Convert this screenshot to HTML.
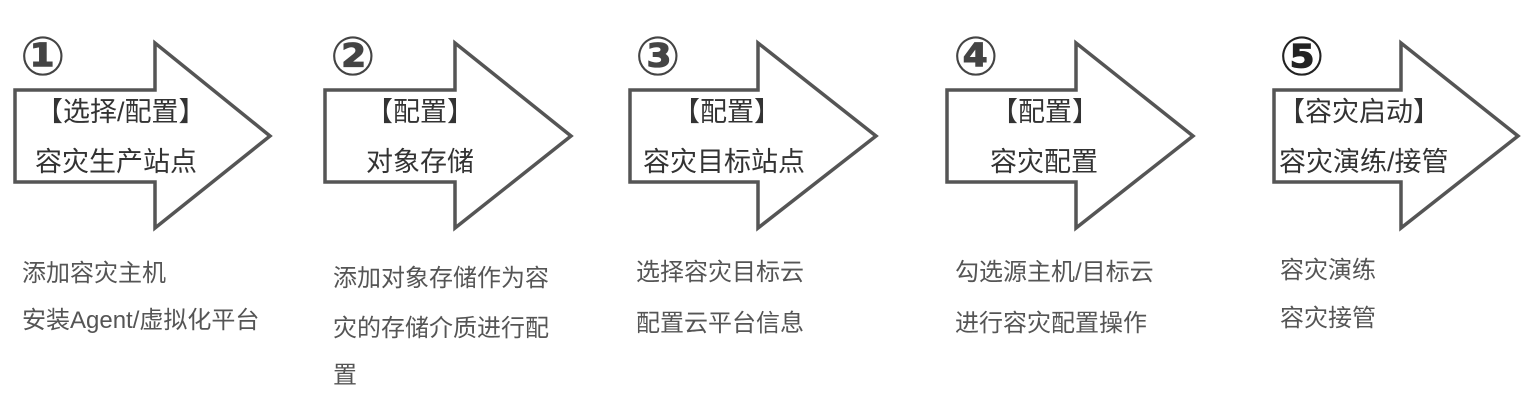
<!DOCTYPE html>
<html><head><meta charset="utf-8"><style>
body{margin:0;width:1531px;height:419px;background:#fff;position:relative;overflow:hidden;font-family:"Liberation Sans","Noto Sans CJK SC",sans-serif;}
.t{position:absolute;white-space:nowrap;color:#333;font-size:27px;line-height:1;}
.b{position:absolute;white-space:nowrap;color:#555;font-size:24px;line-height:1;}
.n{position:absolute;font-family:"DejaVu Sans",sans-serif;font-weight:bold;font-size:54px;color:#444;line-height:1;}
</style></head><body>
<svg width="1531" height="419" style="position:absolute;left:0;top:0">
<g fill="#fff" stroke="#555" stroke-width="3.5" stroke-linejoin="miter">
<polygon points="15,90 155,90 155,43 270,136 155,228 155,182 15,182"/>
<polygon points="325,90 455,90 455,43 571,136 455,228 455,182 325,182"/>
<polygon points="630,90 758,90 758,43 876,136 758,228 758,182 630,182"/>
<polygon points="947,90 1076,90 1076,43 1193,136 1076,228 1076,182 947,182"/>
<polygon points="1274,90 1401,90 1401,43 1518,136 1401,228 1401,182 1274,182"/>
</g></svg>
<div class="n" style="left:20px;top:30px">①</div>
<div class="n" style="left:330px;top:30px">②</div>
<div class="n" style="left:635px;top:30px">③</div>
<div class="n" style="left:953px;top:30px">④</div>
<div class="n" style="left:1279px;top:30px;color:#222">⑤</div>

<div class="t" style="left:36px;top:99px">【选择/配置】</div>
<div class="t" style="left:35px;top:149px">容灾生产站点</div>
<div class="t" style="left:366px;top:99px">【配置】</div>
<div class="t" style="left:366px;top:149px">对象存储</div>
<div class="t" style="left:673px;top:99px">【配置】</div>
<div class="t" style="left:643px;top:149px">容灾目标站点</div>
<div class="t" style="left:991px;top:99px">【配置】</div>
<div class="t" style="left:990px;top:149px">容灾配置</div>
<div class="t" style="left:1278px;top:99px">【容灾启动】</div>
<div class="t" style="left:1279px;top:149px">容灾演练/接管</div>

<div class="b" style="left:22px;top:262px">添加容灾主机</div>
<div class="b" style="left:22px;top:309px">安装Agent/虚拟化平台</div>
<div class="b" style="left:333px;top:267px">添加对象存储作为容</div>
<div class="b" style="left:333px;top:317px">灾的存储介质进行配</div>
<div class="b" style="left:333px;top:364px">置</div>
<div class="b" style="left:636px;top:261px">选择容灾目标云</div>
<div class="b" style="left:636px;top:312px">配置云平台信息</div>
<div class="b" style="left:955px;top:261px">勾选源主机/目标云</div>
<div class="b" style="left:955px;top:312px">进行容灾配置操作</div>
<div class="b" style="left:1280px;top:259px">容灾演练</div>
<div class="b" style="left:1280px;top:307px">容灾接管</div>
</body></html>
